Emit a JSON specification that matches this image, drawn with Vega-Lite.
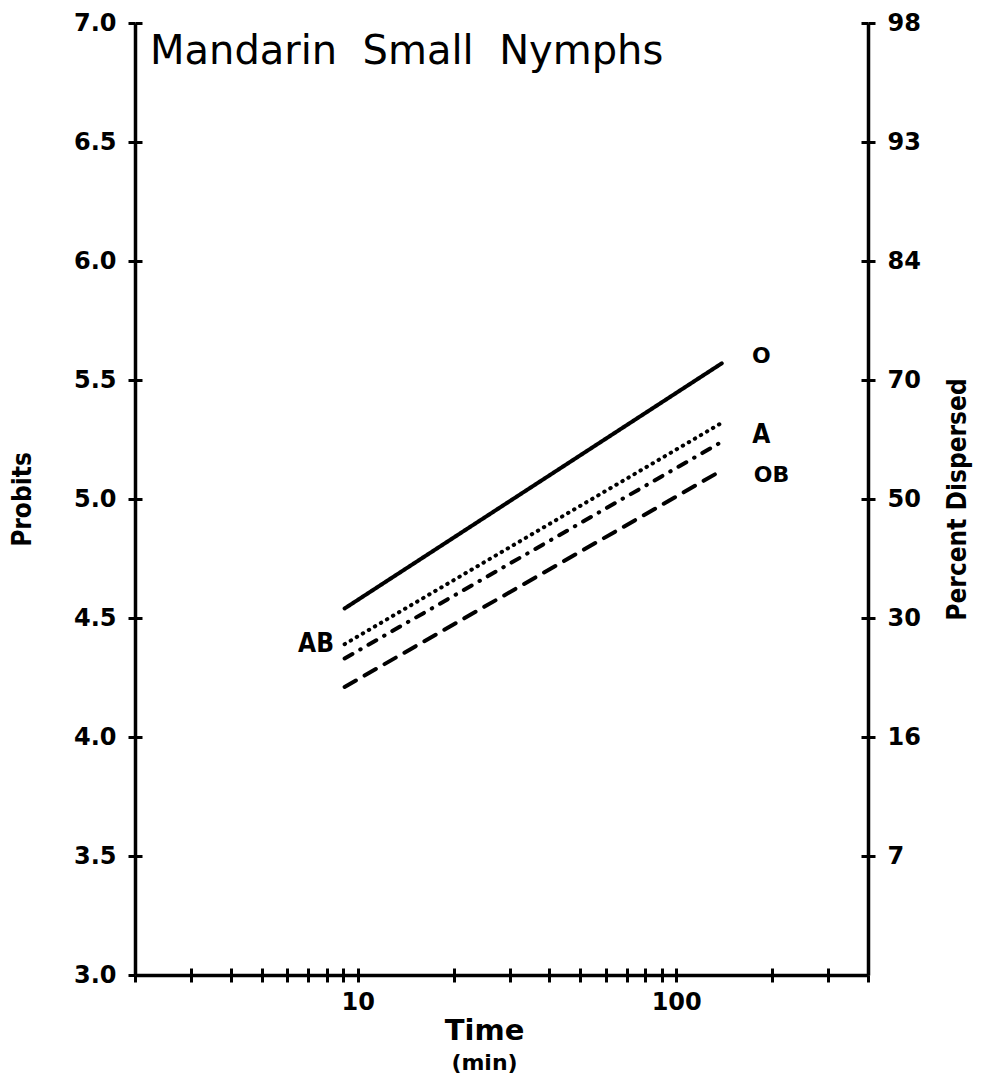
{
  "$schema": "https://vega.github.io/schema/vega-lite/v6.json",
  "width": 733,
  "height": 952,
  "autosize": {"type": "none"},
  "padding": {"left": 135, "top": 23, "right": 122, "bottom": 101},
  "background": "white",
  "title": {
    "text": "Mandarin\u00a0\u00a0Small\u00a0\u00a0Nymphs",
    "anchor": "start",
    "frame": "group",
    "orient": "top",
    "offset": -93,
    "dx": 15,
    "baseline": "alphabetic",
    "font": "DejaVu Sans",
    "fontSize": 40,
    "fontWeight": "normal",
    "color": "black"
  },
  "datasets": {
    "lines": [
      {"series": "O", "time": 9.1, "probit": 4.54},
      {"series": "O", "time": 139, "probit": 5.57},
      {"series": "AB", "time": 9.1, "probit": 4.39},
      {"series": "AB", "time": 139, "probit": 5.32},
      {"series": "A", "time": 9.1, "probit": 4.33},
      {"series": "A", "time": 139, "probit": 5.24},
      {"series": "OB", "time": 9.1, "probit": 4.21},
      {"series": "OB", "time": 139, "probit": 5.12}
    ],
    "labels": [
      {"label": "O", "time": 185, "probit": 5.6},
      {"label": "A", "time": 185, "probit": 5.27},
      {"label": "OB", "time": 199, "probit": 5.1},
      {"label": "AB", "time": 7.4, "probit": 4.39}
    ]
  },
  "layer": [
    {
      "data": {"name": "lines"},
      "mark": {"type": "line", "color": "black", "strokeWidth": 4, "strokeCap": "round"},
      "encoding": {
        "x": {
          "field": "time",
          "type": "quantitative",
          "scale": {"type": "log", "domain": [2, 400]},
          "axis": {
            "title": "Time",
            "values": [2, 3, 4, 5, 6, 7, 8, 9, 10, 20, 30, 40, 50, 60, 70, 80, 90, 100, 200, 300, 400],
            "labelExpr": "datum.value == 10 || datum.value == 100 ? format(datum.value, 'd') : ''",
            "labelFlush": false,
            "labelOverlap": false,
            "labelFont": "DejaVu Sans",
            "labelFontWeight": "bold",
            "labelFontSize": 24,
            "labelPadding": 8,
            "tickSize": 7,
            "titleFont": "DejaVu Sans",
            "titleFontWeight": "bold",
            "titleFontSize": 29,
            "titlePadding": 2,
            "titleX": 349
          }
        },
        "y": {
          "field": "probit",
          "type": "quantitative",
          "scale": {"domain": [3, 7]},
          "axis": {
            "orient": "left",
            "title": "Probits",
            "values": [3, 3.5, 4, 4.5, 5, 5.5, 6, 6.5, 7],
            "format": ".1f",
            "labelFont": "DejaVu Sans",
            "labelFontWeight": "bold",
            "labelFontSize": 24,
            "labelPadding": 12,
            "tickSize": 7,
            "titleFont": "DejaVu Sans Condensed, Liberation Sans Narrow, sans-serif",
            "titleFontWeight": "bold",
            "titleFontSize": 26,
            "titlePadding": 38
          }
        },
        "strokeDash": {
          "field": "series",
          "type": "nominal",
          "scale": {"domain": ["O", "AB", "A", "OB"], "range": [[1, 0], [0.5, 6.5], [9, 9, 0.5, 9], [13, 10]]},
          "legend": null
        }
      }
    },
    {
      "data": {"name": "labels"},
      "transform": [{"filter": "datum.label == 'O' || datum.label == 'OB'"}],
      "mark": {"type": "text", "align": "center", "baseline": "middle", "font": "DejaVu Sans", "fontWeight": "bold", "fontSize": 22, "color": "black"},
      "encoding": {
        "x": {"field": "time", "type": "quantitative", "scale": {"type": "log", "domain": [2, 400]}, "axis": null},
        "y": {"field": "probit", "type": "quantitative", "scale": {"domain": [3, 7]}, "axis": null},
        "text": {"field": "label"}
      }
    },
    {
      "data": {"name": "labels"},
      "transform": [{"filter": "datum.label == 'A' || datum.label == 'AB'"}],
      "mark": {"type": "text", "align": "center", "baseline": "middle", "font": "DejaVu Sans Condensed, Liberation Sans Narrow, sans-serif", "fontWeight": "bold", "fontSize": 26, "color": "black"},
      "encoding": {
        "x": {"field": "time", "type": "quantitative", "scale": {"type": "log", "domain": [2, 400]}, "axis": null},
        "y": {"field": "probit", "type": "quantitative", "scale": {"domain": [3, 7]}, "axis": null},
        "text": {"field": "label"}
      }
    },
    {
      "data": {"name": "lines"},
      "mark": {"type": "line", "opacity": 0},
      "encoding": {
        "x": {
          "field": "time",
          "type": "quantitative",
          "scale": {"type": "log", "domain": [2, 400]},
          "axis": {
            "orient": "bottom",
            "title": "(min)",
            "values": [3, 4, 5, 6, 7, 8, 9, 10, 20, 30, 40, 50, 60, 70, 80, 90, 100, 200, 300, 400],
            "labels": false,
            "domain": false,
            "tickSize": -7,
            "titleFont": "DejaVu Sans",
            "titleFontWeight": "bold",
            "titleFontSize": 22,
            "titlePadding": 76,
            "titleX": 349
          }
        },
        "y": {
          "field": "probit",
          "type": "quantitative",
          "scale": {"domain": [3, 7]},
          "axis": {
            "orient": "right",
            "title": "Percent Dispersed",
            "titleAngle": 270,
            "values": [3.5, 4, 4.5, 5, 5.5, 6, 6.5, 7],
            "labelExpr": "datum.value == 7 ? '98' : datum.value == 6.5 ? '93' : datum.value == 6 ? '84' : datum.value == 5.5 ? '70' : datum.value == 5 ? '50' : datum.value == 4.5 ? '30' : datum.value == 4 ? '16' : '7'",
            "labelFont": "DejaVu Sans",
            "labelFontWeight": "bold",
            "labelFontSize": 24,
            "labelPadding": 12,
            "tickSize": 7,
            "titleFont": "DejaVu Sans Condensed, Liberation Sans Narrow, sans-serif",
            "titleFontWeight": "bold",
            "titleFontSize": 26,
            "titlePadding": 50
          }
        },
        "detail": {"field": "series"}
      }
    },
    {
      "data": {"name": "lines"},
      "mark": {"type": "line", "opacity": 0},
      "encoding": {
        "x": {"field": "time", "type": "quantitative", "scale": {"type": "log", "domain": [2, 400]}, "axis": null},
        "y": {
          "field": "probit",
          "type": "quantitative",
          "scale": {"domain": [3, 7]},
          "axis": {"orient": "left", "title": null, "labels": false, "domain": false, "tickSize": -7, "values": [3.5, 4, 4.5, 5, 5.5, 6, 6.5, 7]}
        },
        "detail": {"field": "series"}
      }
    },
    {
      "data": {"name": "lines"},
      "mark": {"type": "line", "opacity": 0},
      "encoding": {
        "x": {"field": "time", "type": "quantitative", "scale": {"type": "log", "domain": [2, 400]}, "axis": null},
        "y": {
          "field": "probit",
          "type": "quantitative",
          "scale": {"domain": [3, 7]},
          "axis": {"orient": "right", "title": null, "labels": false, "domain": false, "tickSize": -7, "values": [3.5, 4, 4.5, 5, 5.5, 6, 6.5, 7]}
        },
        "detail": {"field": "series"}
      }
    }
  ],
  "resolve": {"axis": {"x": "independent", "y": "independent"}},
  "config": {
    "view": {"stroke": null},
    "axis": {
      "grid": false,
      "domainColor": "black",
      "domainWidth": 3.5,
      "tickColor": "black",
      "tickWidth": 3,
      "labelColor": "black",
      "titleColor": "black"
    }
  }
}
